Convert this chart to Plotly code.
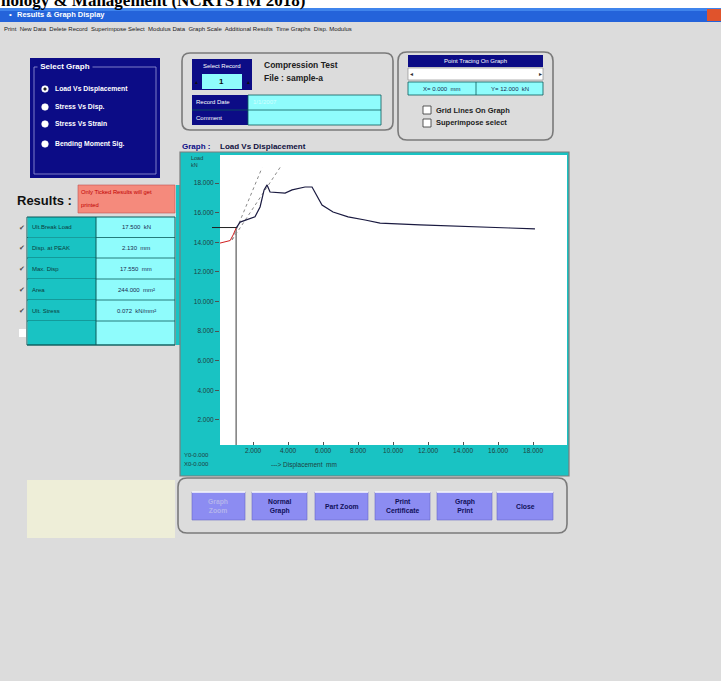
import plotly.graph_objects as go

# ---------------- data ----------------
disp_mm = [1.03, 1.26, 2.11, 2.40, 2.63, 2.80, 2.97, 3.83, 4.23, 4.97, 5.37, 5.66,
           5.94, 6.57, 7.43, 8.40, 9.26, 11.54, 14.40, 16.69, 18.11]
load_kn = [14.96, 15.37, 15.72, 16.39, 17.54, 17.88, 17.40, 17.33, 17.54, 17.74, 17.74, 17.07,
           16.52, 16.05, 15.72, 15.51, 15.30, 15.18, 15.04, 14.97, 14.91]
preload_disp = [0.11, 0.69, 0.86, 1.03]
preload_load = [13.95, 14.12, 14.50, 14.96]
tangent1_disp = [0.80, 2.51]
tangent1_load = [14.16, 19.03]
tangent2_disp = [0.80, 3.60]
tangent2_load = [14.16, 19.16]
origin_disp = [1.03, 1.03]
origin_load = [0.31, 14.96]
ref_load = 15.0

x_ticks = [2, 4, 6, 8, 10, 12, 14, 16, 18]
x_ticktext = ["2.000", "4.000", "6.000", "8.000", "10.000", "12.000", "14.000", "16.000", "18.000"]
y_ticks = [2, 4, 6, 8, 10, 12, 14, 16, 18]
y_ticktext = ["2.000", "4.000", "6.000", "8.000", "10.000", "12.000", "14.000", "16.000", "18.000"]
x_range = [0.11, 19.94]
y_range = [0.31, 19.90]

graph_options = ["Load Vs Displacement", "Stress Vs Disp.", "Stress Vs Strain", "Bending Moment Sig."]
result_labels = ["Ult.Break Load", "Disp. at PEAK", "Max. Disp", "Area", "Ult. Stress", ""]
result_values = ["17.500  kN", "2.130  mm", "17.550  mm", "244.000  mm²", "0.072  kN/mm²", ""]
result_ticked = [True, True, True, True, True, False]
buttons = ["Graph<br>Zoom", "Normal<br>Graph", "Part Zoom", "Print<br>Certificate", "Graph<br>Print", "Close"]
menu_items = ["Print", "New Data", "Delete Record", "Superimpose Select", "Modulus Data",
              "Graph Scale", "Additional Results", "Time Graphs", "Disp. Modulus"]

# ---------------- helpers ----------------
W, H = 721, 681
def X(p): return p / W
def Y(p): return 1 - p / H

shapes, annos = [], []
GRAY = "#dcdcdc"
NAVY = "#0c0c86"
TEAL = "#19c3c3"
CYAN = "#8ffcfc"
FONT = "Liberation Sans, Arial, sans-serif"

def rect(x0, y0, x1, y1, fill, line=None, lw=0, layer="below"):
    shapes.append(dict(type="rect", xref="paper", yref="paper", x0=X(x0), x1=X(x1),
                       y0=Y(y1), y1=Y(y0), fillcolor=fill, layer=layer,
                       line=dict(color=line if line else fill, width=lw)))

def rrect(x0, y0, x1, y1, r, line, lw, fill="rgba(0,0,0,0)"):
    p = (f"M{X(x0+r)},{Y(y0)} L{X(x1-r)},{Y(y0)} Q{X(x1)},{Y(y0)} {X(x1)},{Y(y0+r)} "
         f"L{X(x1)},{Y(y1-r)} Q{X(x1)},{Y(y1)} {X(x1-r)},{Y(y1)} L{X(x0+r)},{Y(y1)} "
         f"Q{X(x0)},{Y(y1)} {X(x0)},{Y(y1-r)} L{X(x0)},{Y(y0+r)} Q{X(x0)},{Y(y0)} {X(x0+r)},{Y(y0)} Z")
    shapes.append(dict(type="path", xref="paper", yref="paper", path=p, fillcolor=fill,
                       line=dict(color=line, width=lw), layer="below"))

def circle(cx, cy, r, fill, line=None):
    shapes.append(dict(type="circle", xref="paper", yref="paper", x0=X(cx-r), x1=X(cx+r),
                       y0=Y(cy+r), y1=Y(cy-r), fillcolor=fill,
                       line=dict(color=line if line else fill, width=0.6), layer="below"))

def line(x0, y0, x1, y1, color, lw=1):
    shapes.append(dict(type="line", xref="paper", yref="paper", x0=X(x0), x1=X(x1),
                       y0=Y(y0), y1=Y(y1), line=dict(color=color, width=lw), layer="below"))

def text(x, y, s, size=8, color="black", xanchor="left", bold=False, family=FONT, bg=None):
    annos.append(dict(xref="paper", yref="paper", x=X(x), y=Y(y), text=(f"<b>{s}</b>" if bold else s),
                      showarrow=False, xanchor=xanchor, yanchor="middle", align="center",
                      font=dict(size=size, color=color, family=family),
                      bgcolor=bg, borderpad=0))

# ---------------- window chrome ----------------
rect(0, 8, 721, 681, GRAY)
rect(0, 8, 721, 22, "#2463da")
rect(0, 8, 721, 11, "#3f84ec")
rect(707, 9, 721, 21, "#e0532c")
text(8, 15, "•", 8, "white")
text(16, 15, "Results & Graph Display", 7.5, "white", bold=True)
text(0, 0, "nology & Management (NCRTSTM 2018)", 17, "black", bold=True,
     family="Liberation Serif, Times New Roman, serif")
text(3, 29, "  ".join(menu_items), 6, "#202020")

# ---------------- select graph panel ----------------
rect(30, 58, 160, 178, NAVY)
rect(34, 67, 156, 174, "rgba(0,0,0,0)", "#9a9ad8", 0.8)
text(37, 67, " Select Graph ", 8, "white", bold=True, bg=NAVY)
for i, opt in enumerate(graph_options):
    cy = [89, 107, 124, 144][i]
    circle(45, cy, 3.3, "white")
    if i == 0:
        circle(45, cy, 1.3, "#202020")
    text(54, cy, opt, 6.8, "white", bold=True)

# ---------------- results ----------------
text(16, 200, "Results :", 13, "#101010", bold=True)
rect(78, 185, 175, 213, "#f58a7c", "#c05050", 0.6)
text(80, 192, "Only Ticked Results will get", 5.8, "#c00000")
text(80, 205, "printed", 5.8, "#c00000")
row_edges = [217, 237.5, 258, 279, 300, 321, 345]
rect(27, 217, 175, 345, CYAN)
for i in range(len(result_labels)):
    y0, y1 = row_edges[i], row_edges[i + 1]
    rect(28, y0, 96, y1, TEAL)
    line(27, y1, 175, y1, "#0a5a5a", 0.8)
    cy = (y0 + y1) / 2
    if result_labels[i]:
        text(31, cy, result_labels[i], 6, "#0c3c3c")
        text(136, cy, result_values[i], 6, "#1a2a50", xanchor="center")
    if result_ticked[i]:
        text(22, cy, "✔", 7, "#505050", xanchor="center")
    else:
        rect(19, cy - 4, 26, cy + 4, "white")
rect(27, 217, 175, 345, "rgba(0,0,0,0)", "#0a5a5a", 1)
line(96, 217, 96, 345, "#0a5a5a", 1)
rect(176, 185, 180, 345, TEAL)
rect(27, 480, 175, 538, "#eeeed8")

# ---------------- record box ----------------
rrect(182, 53, 393, 130, 8, "#7a7a7a", 1.6)
rect(192, 59, 252, 73, NAVY)
text(222, 66, "Select Record", 6, "white", xanchor="center")
rect(192, 73, 252, 90, NAVY)
rect(202, 74, 242, 89, CYAN)
text(222, 81.5, "1", 8, "#101010", xanchor="center", bold=True)
text(196, 81.5, "▲", 5, "#101010", xanchor="center")
text(248, 81.5, "▲", 5, "#101010", xanchor="center")
text(263, 65, "Compression Test", 8.5, "#202020", bold=True)
text(263, 78, "File : sample-a", 8.5, "#202020", bold=True)
rect(192, 95, 248, 125, NAVY)
rect(248, 95, 381, 125, CYAN, "#0a5a5a", 0.8)
line(192, 110, 381, 110, "#0a5a5a", 0.8)
text(195, 102.5, "Record Date", 6, "white")
text(195, 117.5, "Comment", 6, "white")
text(252, 102.5, "1/1/2007", 6, "#d0ffff")

# ---------------- point tracing box ----------------
rrect(398, 52, 553, 140, 9, "#7a7a7a", 1.6)
rect(408, 55, 543, 67, NAVY)
text(475, 61, "Point Tracing On Graph", 6, "white", xanchor="center")
rect(408, 68, 543, 80, "white", "#808080", 0.6)
text(411, 74, "◂", 6, "#303030", xanchor="center")
text(540, 74, "▸", 6, "#303030", xanchor="center")
rect(408, 82, 543, 95, CYAN, "#0a5a5a", 0.8)
line(476, 82, 476, 95, "#0a5a5a", 0.8)
text(442, 88.5, "X= 0.000  mm", 6, "#1a2a50", xanchor="center")
text(510, 88.5, "Y= 12.000  kN", 6, "#1a2a50", xanchor="center")
for cy, s in [(110, "Grid Lines On Graph"), (123, "Superimpose select")]:
    rect(423, cy - 4, 431, cy + 4, "white", "#303030", 0.8)
    text(435, cy, s, 7.5, "#202020", bold=True)

# ---------------- graph panel ----------------
text(181, 146, "Graph :", 8, "#0c0c86", bold=True)
text(219, 146, "Load Vs Displacement", 8, "#101040", bold=True)
rect(180, 152, 569, 476, TEAL)
rect(220, 155, 567, 445, "white")
rect(180, 152, 569, 476, "rgba(0,0,0,0)", "#7c7c7c", 1.2)
text(190, 158, "Load", 5.5, "#204040")
text(190, 165, "kN", 5.5, "#204040")
text(183, 455, "Y0-0.000", 6, "#204040")
text(183, 464, "X0-0.000", 6, "#204040")
text(270, 465, "---> Displacement  mm", 6.5, "#204040")

# ---------------- buttons ----------------
rrect(178, 478, 567, 533, 9, "#7a7a7a", 1.6)
bx = [(192, 245), (252, 307), (315, 368), (375, 430), (437, 492), (497, 553)]
for (x0, x1), lab in zip(bx, buttons):
    rect(x0, 492, x1, 520, "#8c8cf2", "#6a6ac8", 0.6)
    line(x0, 492, x1, 492, "white", 1.5)
    col = "#b4b4ec" if lab.startswith("Graph<br>Z") else "#10105a"
    annos.append(dict(xref="paper", yref="paper", x=X((x0 + x1) / 2), y=Y(506),
                      text=f"<b>{lab}</b>", showarrow=False, xanchor="center", yanchor="middle",
                      align="center", font=dict(size=6.8, color=col, family=FONT)))

# reference horizontal line from the axis edge to the curve start (x from data mapping)
dom0, dom1 = X(220), X(567)
start_paper = dom0 + (disp_mm[0] - x_range[0]) / (x_range[1] - x_range[0]) * (dom1 - dom0)
shapes.append(dict(type="line", xref="paper", yref="y", x0=X(212), x1=start_paper,
                   y0=ref_load, y1=ref_load, line=dict(color="#202020", width=1), layer="above"))

# ---------------- traces ----------------
fig = go.Figure()
fig.add_trace(go.Scatter(x=origin_disp, y=origin_load, mode="lines",
                         line=dict(color="#3a3a3a", width=1), hoverinfo="skip"))
fig.add_trace(go.Scatter(x=tangent1_disp, y=tangent1_load, mode="lines",
                         line=dict(color="#8a8a8a", width=1, dash="dot"), hoverinfo="skip"))
fig.add_trace(go.Scatter(x=tangent2_disp, y=tangent2_load, mode="lines",
                         line=dict(color="#8a8a8a", width=1, dash="dot"), hoverinfo="skip"))
fig.add_trace(go.Scatter(x=preload_disp, y=preload_load, mode="lines",
                         line=dict(color="#d02020", width=1), hoverinfo="skip"))
fig.add_trace(go.Scatter(x=disp_mm, y=load_kn, mode="lines",
                         line=dict(color="#1a1a40", width=1.2)))

fig.update_layout(
    width=W, height=H, margin=dict(l=0, r=0, t=0, b=0),
    paper_bgcolor="white", plot_bgcolor="rgba(0,0,0,0)", showlegend=False,
    shapes=shapes, annotations=annos,
    xaxis=dict(domain=[X(220), X(567)], range=x_range, tickvals=x_ticks, ticktext=x_ticktext,
               showgrid=False, zeroline=False, showline=False, ticks="inside", ticklen=3,
               tickcolor="#505050", tickfont=dict(size=6.5, color="#204040", family=FONT),
               fixedrange=True),
    yaxis=dict(domain=[Y(445), Y(155)], range=y_range, tickvals=y_ticks, ticktext=y_ticktext,
               showgrid=False, zeroline=False, showline=False, ticks="outside", ticklen=4,
               tickcolor="#505050", tickfont=dict(size=6.5, color="#204040", family=FONT),
               fixedrange=True),
)
fig.write_html("out.html", config={"displayModeBar": False},
               post_script="document.body.style.margin='0';document.body.style.overflow='hidden';")
